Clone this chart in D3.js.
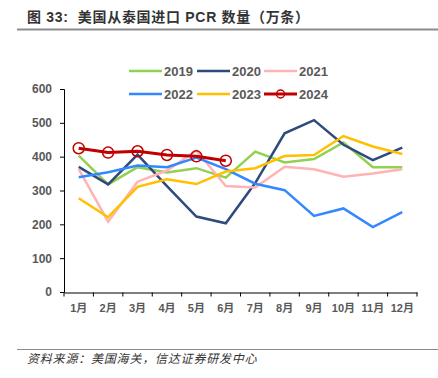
<!DOCTYPE html>
<html><head><meta charset="utf-8">
<script src="https://cdn.jsdelivr.net/npm/d3@7"></script>
<style>body{margin:0;background:#fff}svg{display:block}</style>
</head><body>
<script>
const months = ["1月","2月","3月","4月","5月","6月","7月","8月","9月","10月","11月","12月"];
const yTicks = [0,100,200,300,400,500,600];
const years = ["2019","2020","2021","2022","2023","2024"];
const colors = ["#92D050","#2F4A7C","#FFB3B3","#3388FF","#FFC000","#C00000"];
const s2019 = [403,318,369,353,366,338,415,383,393,442,369,369];
const s2020 = [370,318,406,313,223,203,322,469,508,435,390,427];
const s2021 = [363,208,326,359,418,313,309,370,363,341,350,363];
const s2022 = [339,354,374,369,397,363,320,301,225,247,192,236];
const s2023 = [277,221,311,333,319,356,366,402,405,461,430,408];
const s2024 = [425,412,416,405,401,388];
const series = [s2019,s2020,s2021,s2022,s2023,s2024];

const W=438,H=378;
const svg=d3.select("body").append("svg").attr("width",W).attr("height",H);
const font="Liberation Sans, Arial, 'Noto Sans CJK SC', sans-serif";

// title
svg.append("text").attr("x",27).attr("y",22).attr("font-family",font)
  .attr("font-size",14).attr("font-weight","bold").attr("fill","#333")
  .attr("letter-spacing",0.7).attr("xml:space","preserve")
  .text("图 33:  美国从泰国进口 PCR 数量（万条）");
svg.append("line").attr("x1",17).attr("x2",438).attr("y1",29.5).attr("y2",29.5)
  .attr("stroke","#8c8c8c").attr("stroke-width",2);

const x=d3.scaleBand().domain(months).range([64,417]);
const y=d3.scaleLinear().domain([0,600]).range([292,89]);

// y axis
const ya=svg.append("g").attr("transform","translate(64,0)")
  .call(d3.axisLeft(y).tickValues(yTicks).tickSize(4).tickPadding(8));
ya.select(".domain").attr("stroke","#000");
ya.selectAll(".tick line").attr("stroke","#000");
ya.selectAll("text").attr("font-family",font).attr("font-size",12).attr("font-weight","bold").attr("fill","#595959");

// x axis
const xa=svg.append("g").attr("transform","translate(0,292.5)")
  .call(d3.axisBottom(x).tickSize(0).tickPadding(12));
xa.select(".domain").attr("stroke","#000");
xa.selectAll("text").attr("font-family",font).attr("font-size",11).attr("font-weight","bold").attr("fill","#595959");
const bounds=months.map(m=>x(m)).concat([x(months[11])+x.bandwidth()]);
svg.append("g").selectAll("line").data(bounds).join("line")
  .attr("x1",d=>d).attr("x2",d=>d).attr("y1",292.5).attr("y2",296.5)
  .attr("stroke","#000");

// lines
const line=d3.line().x((d,i)=>x(months[i])+x.bandwidth()/2).y(d=>y(d));
series.forEach((s,k)=>{
  svg.append("path").datum(s).attr("d",line).attr("fill","none")
    .attr("stroke",colors[k]).attr("stroke-width",k===5?3:2.5).attr("stroke-linejoin","miter");
});
svg.append("g").selectAll("circle").data(s2024).join("circle")
  .attr("cx",(d,i)=>x(months[i])+x.bandwidth()/2).attr("cy",d=>y(d)).attr("r",5.5)
  .attr("fill","none").attr("stroke",colors[5]).attr("stroke-width",1.5);

// legend
const lx=[129,197,264], ly=[71,94];
years.forEach((yr,k)=>{
  const cx=lx[k%3], cy=ly[Math.floor(k/3)];
  const g=svg.append("g");
  g.append("line").attr("x1",cx).attr("x2",cx+33).attr("y1",cy).attr("y2",cy)
    .attr("stroke",colors[k]).attr("stroke-width",k===5?3:2.5);
  if(k===5) g.append("circle").attr("cx",cx+16.5).attr("cy",cy).attr("r",4)
    .attr("fill","none").attr("stroke",colors[k]).attr("stroke-width",1.5);
  g.append("text").attr("x",cx+35).attr("y",cy+4.5).attr("font-family",font)
    .attr("font-size",13).attr("font-weight","bold").attr("fill","#595959").text(yr);
});

// footer
svg.append("line").attr("x1",17).attr("x2",438).attr("y1",349.5).attr("y2",349.5)
  .attr("stroke","#8c8c8c").attr("stroke-width",1);
svg.append("text").attr("x",27).attr("y",363).attr("font-family","'Noto Sans CJK SC', sans-serif")
  .attr("font-size",12).attr("font-style","italic").attr("fill","#333").attr("letter-spacing",0.8)
  .text("资料来源：美国海关，信达证券研发中心");
</script>
</body></html>
